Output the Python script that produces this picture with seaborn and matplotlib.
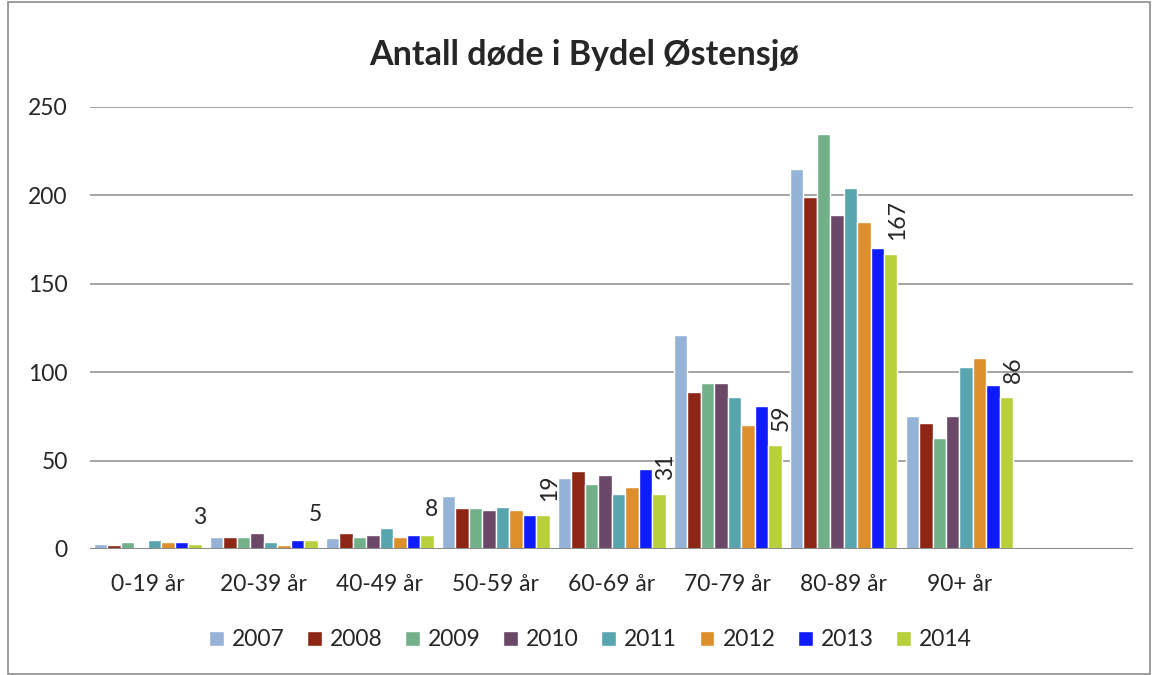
import pandas as pd
import matplotlib.pyplot as plt
import seaborn as sns
from matplotlib.patches import Rectangle

# Data
age_groups = ['0-19 år', '20-39 år', '40-49 år', '50-59 år', '60-69 år',
              '70-79 år', '80-89 år', '90+ år']
years = ['2007', '2008', '2009', '2010', '2011', '2012', '2013', '2014']
deaths = {
    '2007': [3, 7, 6, 30, 40, 121, 215, 75],
    '2008': [2, 7, 9, 23, 44, 89, 199, 71],
    '2009': [4, 7, 7, 23, 37, 94, 235, 63],
    '2010': [1, 9, 8, 22, 42, 94, 189, 75],
    '2011': [5, 4, 12, 24, 31, 86, 204, 103],
    '2012': [4, 2, 7, 22, 35, 70, 185, 108],
    '2013': [4, 5, 8, 19, 45, 81, 170, 93],
    '2014': [3, 5, 8, 19, 31, 59, 167, 86],
}
colors = ['#95B3D7', '#8E2616', '#72B08A', '#6B4768', '#56A5AF',
          '#DD8F2B', '#0F1BFF', '#B8D03C']

rows = []
for y in years:
    for g, v in zip(age_groups, deaths[y]):
        rows.append({'Aldersgruppe': g, 'År': y, 'Antall': v})
df = pd.DataFrame(rows)

sns.set_style('white')
plt.rcParams['font.family'] = ['Lato', 'DejaVu Sans']

fig, ax = plt.subplots(figsize=(11.53, 6.75), dpi=100)
fig.subplots_adjust(left=0.078, right=0.983, top=0.8415, bottom=0.1867)

sns.barplot(data=df, x='Aldersgruppe', y='Antall', hue='År', order=age_groups,
            hue_order=years, palette=colors, width=0.93, edgecolor='white',
            linewidth=1.0, saturation=1, ax=ax)

# extra empty slot on the right like the original
ax.set_xlim(-0.5, 8.5)
ax.set_ylim(0, 250)
ax.set_yticks(range(0, 251, 50))
ax.yaxis.grid(True, color='#8c8c8c', linewidth=1.1)
ax.set_axisbelow(True)
for s in ax.spines.values():
    s.set_visible(False)
ax.axhline(0, color='#8c8c8c', linewidth=1.5)
ax.set_xlabel('')
ax.set_ylabel('')
ax.tick_params(axis='x', length=0, pad=18, labelsize=16.5)
ax.tick_params(axis='y', length=0, pad=16, labelsize=16.5)

# Data labels for 2014 only
for p, v in zip(ax.containers[-1], deaths['2014']):
    x = p.get_x() + p.get_width() / 2
    h = p.get_height()
    if v < 10:
        ax.annotate(str(v), (x, h), xytext=(3, 11), textcoords='offset points',
                    ha='center', va='bottom', fontsize=16.5)
    else:
        ax.annotate(str(v), (x, h), xytext=(5, 10), textcoords='offset points',
                    ha='center', va='bottom', rotation=90, fontsize=16.5)

fig.text(0.507, 1 - 55 / 675, 'Antall døde i Bydel Østensjø', fontsize=24.5,
         fontweight='bold', ha='center', va='center')

handles, labels = ax.get_legend_handles_labels()
ax.legend_.remove()
fig.legend(handles, labels, loc='center', bbox_to_anchor=(0.512, 0.052), ncol=8,
           frameon=False, fontsize=16.5, handlelength=0.65, handleheight=0.65,
           handletextpad=0.35, columnspacing=0.98)

fig.patches.append(Rectangle((0.007, 0.002), 0.99, 0.995, transform=fig.transFigure,
                             fill=False, edgecolor='#8c8c8c', linewidth=1.2))

plt.savefig('out.png', dpi=100)
plt.close()
